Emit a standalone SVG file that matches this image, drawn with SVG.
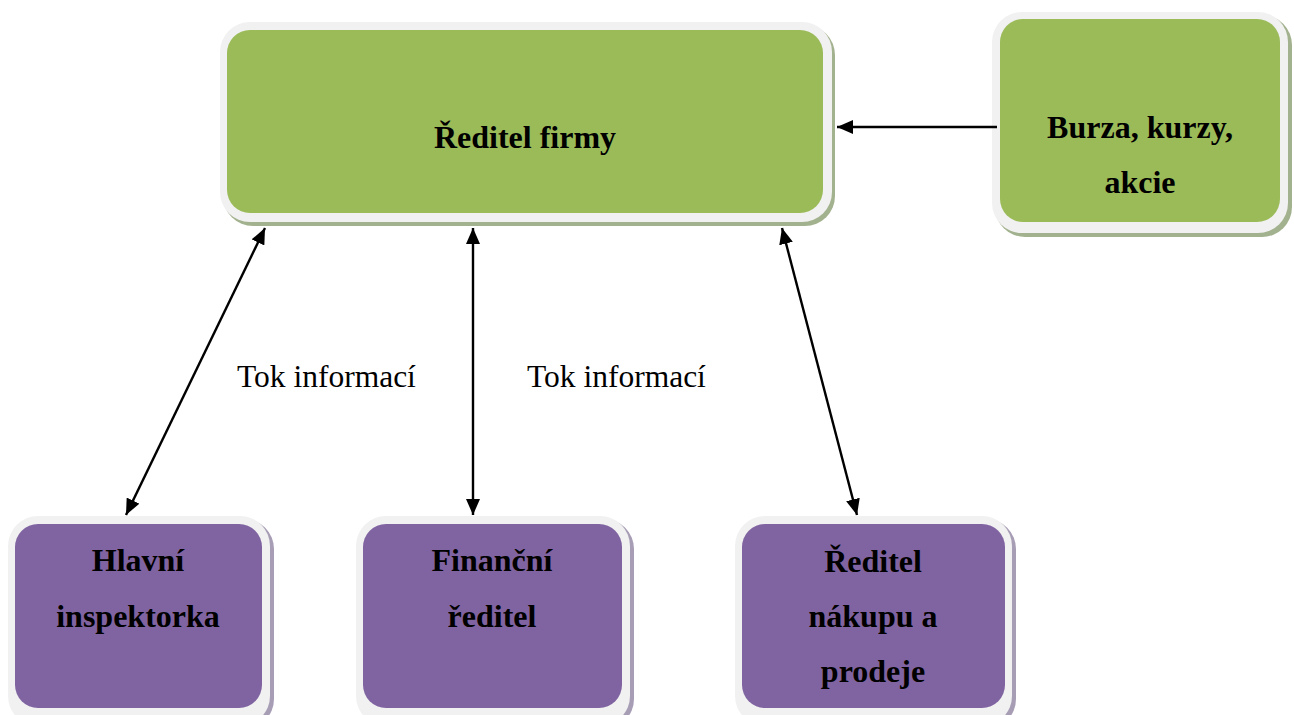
<svg xmlns="http://www.w3.org/2000/svg" width="1294" height="715" viewBox="0 0 1294 715">
  <style>
    .shadow-g { fill: #A3B28E; }
    .shadow-p { fill: #A79DB5; }
    .frame { fill: #F1F1F1; }
    .green { fill: #9BBB59; }
    .purple { fill: #8064A2; }
    .label { font-family: "Liberation Serif", "Times New Roman", serif; font-weight: bold; font-size: 32px; fill: #000; text-anchor: middle; }
    .flow { font-family: "Liberation Serif", "Times New Roman", serif; font-size: 31.5px; fill: #000; }
    .conn { stroke: #000; stroke-width: 2.4; fill: none; }
  </style>
  <defs>
    <marker id="arrow" viewBox="0 0 16 14" refX="16" refY="7" markerWidth="16" markerHeight="14" markerUnits="userSpaceOnUse" orient="auto-start-reverse">
      <path d="M0,0 L16,7 L0,14 Z" fill="#000"/>
    </marker>
  </defs>

  <rect width="1294" height="715" fill="#fff"/>

  <!-- top: company director -->
  <g id="node-reditel-firmy">
    <rect class="shadow-g" x="223" y="25" width="612" height="201" rx="30"/>
    <rect class="frame" x="220" y="22" width="612" height="200" rx="30"/>
    <rect class="green" x="227" y="30" width="596" height="183" rx="23"/>
    <text class="label" x="525" y="148">Ředitel firmy</text>
  </g>

  <!-- market information source -->
  <g id="node-burza">
    <rect class="shadow-g" x="995" y="15" width="297" height="222" rx="30"/>
    <rect class="frame" x="992" y="12" width="296" height="221" rx="30"/>
    <rect class="green" x="1000" y="19" width="280" height="203" rx="23"/>
    <text class="label" x="1140" y="138">Burza, kurzy,</text>
    <text class="label" x="1140" y="193">akcie</text>
  </g>

  <!-- subordinate roles -->
  <g id="node-hlavni-inspektorka">
    <rect class="shadow-p" x="11" y="519" width="263" height="210" rx="30"/>
    <rect class="frame" x="8" y="516" width="262" height="210" rx="30"/>
    <rect class="purple" x="15" y="524" width="247" height="184" rx="23"/>
    <text class="label" x="138" y="571">Hlavní</text>
    <text class="label" x="138" y="627">inspektorka</text>
  </g>

  <g id="node-financni-reditel">
    <rect class="shadow-p" x="359" y="519" width="275" height="210" rx="30"/>
    <rect class="frame" x="356" y="516" width="274" height="210" rx="30"/>
    <rect class="purple" x="363" y="524" width="259" height="184" rx="23"/>
    <text class="label" x="492" y="571">Finanční</text>
    <text class="label" x="492" y="627">ředitel</text>
  </g>

  <g id="node-reditel-nakupu">
    <rect class="shadow-p" x="738" y="519" width="278" height="210" rx="30"/>
    <rect class="frame" x="735" y="516" width="277" height="210" rx="30"/>
    <rect class="purple" x="742" y="524" width="263" height="184" rx="23"/>
    <text class="label" x="873" y="572">Ředitel</text>
    <text class="label" x="873" y="627">nákupu a</text>
    <text class="label" x="873" y="682">prodeje</text>
  </g>

  <!-- connectors -->
  <g id="connectors">
    <line class="conn" x1="997" y1="127" x2="837" y2="127" marker-end="url(#arrow)"/>
    <line class="conn" x1="265" y1="228" x2="126" y2="515" marker-start="url(#arrow)" marker-end="url(#arrow)"/>
    <line class="conn" x1="473" y1="228" x2="473" y2="515" marker-start="url(#arrow)" marker-end="url(#arrow)"/>
    <line class="conn" x1="782" y1="228" x2="857" y2="515" marker-start="url(#arrow)" marker-end="url(#arrow)"/>
  </g>

  <g id="labels">
    <text class="flow" x="237" y="387">Tok informací</text>
    <text class="flow" x="527" y="387">Tok informací</text>
  </g>
</svg>
